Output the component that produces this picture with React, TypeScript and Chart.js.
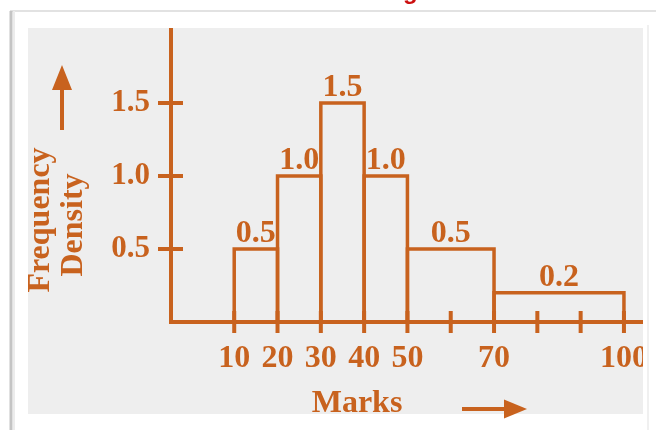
import React, { useEffect, useRef } from 'react';
import { Chart, registerables } from 'chart.js';

Chart.register(...registerables);

// ---- data ----
const binStarts = [10, 20, 30, 40, 50, 70];
const binEnds = [20, 30, 40, 50, 70, 100];
const densities = [0.5, 1.0, 1.5, 1.0, 0.5, 0.2];
const densityLabels = ['0.5', '1.0', '1.5', '1.0', '0.5', '0.2'];
const xTickValues = [10, 20, 30, 40, 50, 60, 70, 80, 90, 100];
const xTickLabels = ['10', '20', '30', '40', '50', '', '70', '', '', '100'];
const yTickValues = [0.5, 1.0, 1.5];
const yTickLabels = ['0.5', '1.0', '1.5'];
const xTitle = 'Marks';
const yTitleLines = ['Frequency', 'Density'];
const topTitle = 'Histogram';

const ORANGE = '#c8621e';
const SERIF = '"Liberation Serif", "Times New Roman", serif';

const decorPlugin = {
  id: 'decor',
  beforeDraw(chart: any) {
    const ctx = chart.ctx;
    const W = chart.width;
    const H = chart.height;
    ctx.save();
    ctx.fillStyle = '#ffffff';
    ctx.fillRect(0, 0, W, H);
    // card frame
    ctx.strokeStyle = '#e2e2e2';
    ctx.lineWidth = 2;
    ctx.beginPath();
    ctx.moveTo(10, 11);
    ctx.lineTo(W, 11);
    ctx.stroke();
    ctx.strokeStyle = '#c4c4c4';
    ctx.lineWidth = 3;
    ctx.beginPath();
    ctx.moveTo(11, 11);
    ctx.lineTo(11, H);
    ctx.stroke();
    ctx.strokeStyle = '#ececec';
    ctx.lineWidth = 2;
    ctx.beginPath();
    ctx.moveTo(14, 11);
    ctx.lineTo(14, H);
    ctx.stroke();
    // panel
    ctx.fillStyle = '#eeeeee';
    ctx.fillRect(28, 28, 643 - 28, 414 - 28);
    ctx.restore();
  },
  afterDraw(chart: any) {
    const ctx = chart.ctx;
    const xs = chart.scales.x;
    const ys = chart.scales.y;
    const area = chart.chartArea;
    ctx.save();
    ctx.strokeStyle = ORANGE;
    ctx.fillStyle = ORANGE;
    ctx.lineWidth = 4;
    ctx.lineCap = 'butt';
    // crossing tick marks
    xTickValues.forEach((v) => {
      const px = xs.getPixelForValue(v);
      ctx.beginPath();
      ctx.moveTo(px, area.bottom - 11);
      ctx.lineTo(px, area.bottom + 11);
      ctx.stroke();
    });
    yTickValues.forEach((v) => {
      const py = ys.getPixelForValue(v);
      ctx.beginPath();
      ctx.moveTo(area.left - 13, py);
      ctx.lineTo(area.left + 12, py);
      ctx.stroke();
    });
    // value labels
    ctx.font = `bold 32px ${SERIF}`;
    ctx.textAlign = 'center';
    ctx.textBaseline = 'alphabetic';
    densities.forEach((d, i) => {
      const cx = (xs.getPixelForValue(binStarts[i]) + xs.getPixelForValue(binEnds[i])) / 2;
      const py = ys.getPixelForValue(d);
      ctx.fillText(densityLabels[i], cx, py - 7);
    });
    // x title
    ctx.fillText(xTitle, 357, 412);
    // y title (rotated)
    const baselines = [49, 82];
    const centers = [220, 225];
    yTitleLines.forEach((t, i) => {
      ctx.save();
      ctx.translate(baselines[i], centers[i]);
      ctx.rotate(-Math.PI / 2);
      ctx.fillText(t, 0, 0);
      ctx.restore();
    });
    // up arrow
    ctx.beginPath();
    ctx.moveTo(62, 130);
    ctx.lineTo(62, 86);
    ctx.stroke();
    ctx.beginPath();
    ctx.moveTo(62, 65);
    ctx.lineTo(72, 90);
    ctx.lineTo(52, 90);
    ctx.closePath();
    ctx.fill();
    // right arrow
    ctx.beginPath();
    ctx.moveTo(462, 409);
    ctx.lineTo(508, 409);
    ctx.stroke();
    ctx.beginPath();
    ctx.moveTo(527, 409);
    ctx.lineTo(504, 399.5);
    ctx.lineTo(504, 418.5);
    ctx.closePath();
    ctx.fill();
    // right white strip (clips the panel)
    ctx.fillStyle = '#ffffff';
    ctx.fillRect(643, 0, chart.width - 643, chart.height);
    ctx.strokeStyle = '#e2e2e2';
    ctx.lineWidth = 2;
    ctx.beginPath();
    ctx.moveTo(643, 11);
    ctx.lineTo(chart.width, 11);
    ctx.stroke();
    ctx.strokeStyle = '#f0f0f0';
    ctx.beginPath();
    ctx.moveTo(648, 25);
    ctx.lineTo(648, chart.height);
    ctx.stroke();
    // cropped red title at the very top
    ctx.font = `bold 24px "Liberation Sans", Arial, sans-serif`;
    ctx.fillStyle = '#cc1010';
    ctx.textAlign = 'left';
    ctx.textBaseline = 'alphabetic';
    const pre = ctx.measureText('Histo').width;
    ctx.fillText(topTitle, 403 - pre, -1);
    ctx.restore();
  },
};

export default function App() {
  const ref = useRef<HTMLCanvasElement | null>(null);
  useEffect(() => {
    document.body.style.margin = '0';
    const canvas = ref.current;
    if (!canvas) return;
    const datasets = densities.map((d, i) => ({
      data: [
        { x: binStarts[i], y: 0 },
        { x: binStarts[i], y: d },
        { x: binEnds[i], y: d },
        { x: binEnds[i], y: 0 },
      ],
      borderColor: ORANGE,
      borderWidth: 3.5,
      pointRadius: 0,
      fill: false,
      tension: 0,
      borderJoinStyle: 'miter' as const,
    }));
    const zeroPad = (s: any) => {
      s.paddingLeft = 0;
      s.paddingRight = 0;
      s.paddingTop = 0;
      s.paddingBottom = 0;
    };
    const chart = new Chart(canvas, {
      type: 'line',
      data: { datasets },
      options: {
        animation: false,
        responsive: false,
        devicePixelRatio: 1,
        layout: { padding: { top: 30, right: 13, left: 0, bottom: 0 } },
        plugins: { legend: { display: false }, tooltip: { enabled: false } },
        scales: {
          x: {
            type: 'linear',
            min: -4.6,
            max: 104.4,
            afterBuildTicks: (s: any) => {
              s.ticks = xTickValues.map((v) => ({ value: v }));
            },
            afterFit: (s: any) => {
              s.height = 108;
              zeroPad(s);
            },
            ticks: {
              autoSkip: false,
              maxRotation: 0,
              minRotation: 0,
              padding: 18,
              color: ORANGE,
              font: { family: SERIF, weight: 'bold', size: 32 },
              callback: (v: any) => {
                const i = xTickValues.indexOf(Number(v));
                return i >= 0 ? xTickLabels[i] : '';
              },
            },
            grid: { display: false, drawTicks: false },
            border: { display: true, color: ORANGE, width: 4 },
          },
          y: {
            type: 'linear',
            min: 0,
            max: 2,
            afterBuildTicks: (s: any) => {
              s.ticks = yTickValues.map((v) => ({ value: v }));
            },
            afterFit: (s: any) => {
              s.width = 171;
              zeroPad(s);
            },
            ticks: {
              padding: 21,
              color: ORANGE,
              font: { family: SERIF, weight: 'bold', size: 31 },
              callback: (v: any) => {
                const i = yTickValues.indexOf(Number(v));
                return i >= 0 ? yTickLabels[i] : '';
              },
            },
            grid: { display: false, drawTicks: false },
            border: { display: true, color: ORANGE, width: 4 },
          },
        },
      },
      plugins: [decorPlugin],
    });
    return () => chart.destroy();
  }, []);
  return <canvas ref={ref} width={656} height={430} style={{ display: 'block' }} />;
}
